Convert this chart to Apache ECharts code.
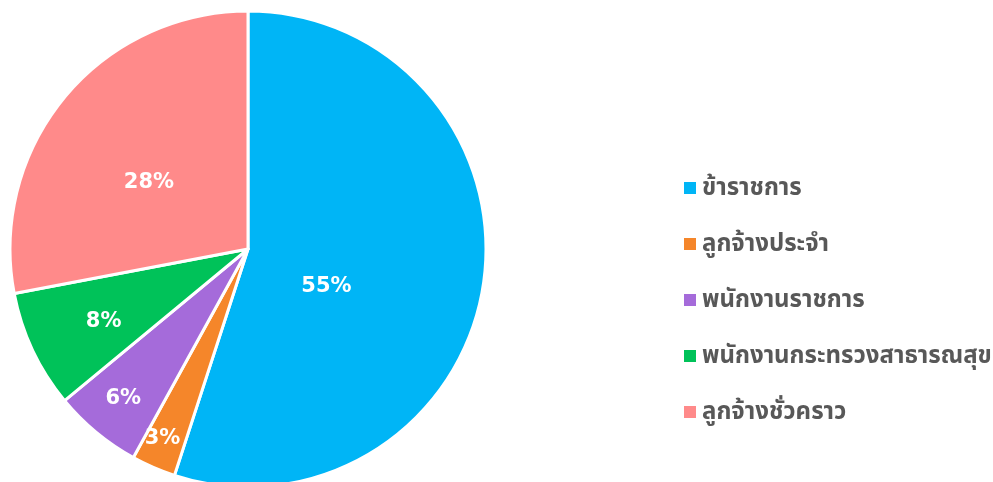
<!DOCTYPE html>
<html>
<head>
<meta charset="utf-8">
<script src="https://cdn.jsdelivr.net/npm/echarts@6/dist/echarts.min.js"></script>
<style>
  html, body { margin: 0; padding: 0; background: #fff; }
  #chart { width: 993px; height: 482px; }
</style>
</head>
<body>
<div id="chart"></div>
<script>
// Staff categories and their share (%)
const categories = ['ข้าราชการ', 'ลูกจ้างประจำ', 'พนักงานราชการ', 'พนักงานกระทรวงสาธารณสุข', 'ลูกจ้างชั่วคราว'];
const shares = [55, 3, 6, 8, 28];
const colors = ['#00B5F6', '#F5862A', '#A56BDA', '#00C259', '#FF8A8A'];

// per-slice nudges of the percentage labels from the mid-radius point
const labelOffsets = [[-42, 18], [-37, 78], [-47, 56], [-34, 21], [-5, 11]];

const chart = echarts.init(document.getElementById('chart'), null, { renderer: 'canvas' });

const pieData = categories.map((name, i) => ({
  name: name,
  value: shares[i],
  itemStyle: { color: colors[i] },
  label: { offset: labelOffsets[i] }
}));

chart.setOption({
  animation: false,
  backgroundColor: '#ffffff',
  legend: {
    orient: 'vertical',
    left: 679,
    top: 171,
    icon: 'rect',
    itemWidth: 12,
    itemHeight: 12,
    itemGap: 32,
    itemStyle: { borderWidth: 0 },
    textStyle: {
      fontFamily: 'Noto Sans, Noto Sans Thai, sans-serif',
      fontSize: 24,
      lineHeight: 22,
      fontWeight: 'bold',
      color: '#585858',
      padding: [0, 0, 0, 1]
    },
    data: categories
  },
  series: [{
    type: 'pie',
    center: [248, 249],
    radius: [0, 238],
    startAngle: 90,
    clockwise: true,
    avoidLabelOverlap: false,
    itemStyle: { borderColor: '#ffffff', borderWidth: 3 },
    label: {
      show: true,
      position: 'inside',
      formatter: '{c}%',
      color: '#ffffff',
      fontFamily: 'DejaVu Sans, sans-serif',
      fontSize: 21,
      fontWeight: 'bold'
    },
    labelLine: { show: false },
    emphasis: { disabled: true },
    data: pieData
  }]
});
</script>
</body>
</html>
